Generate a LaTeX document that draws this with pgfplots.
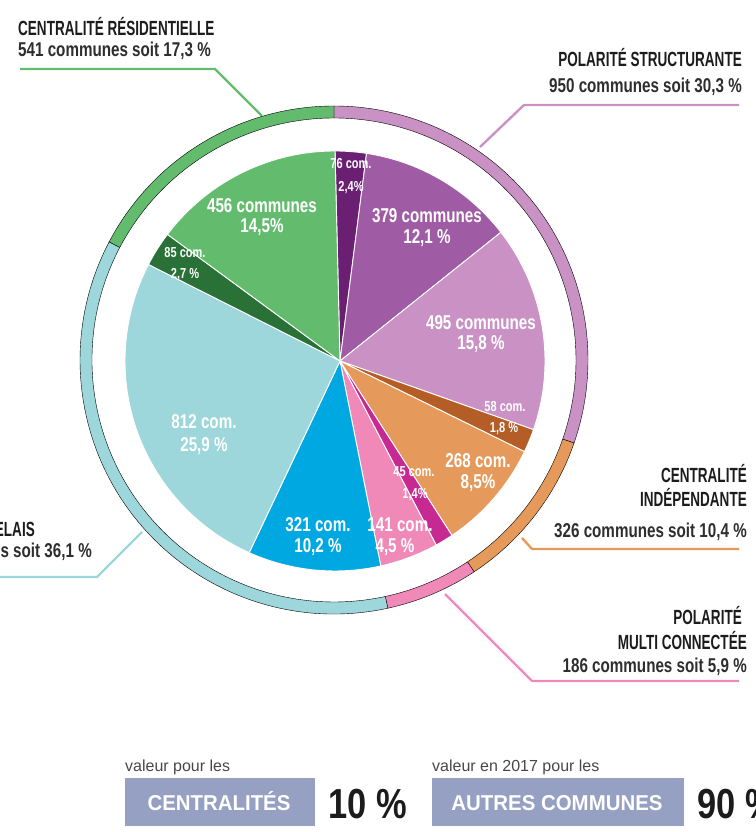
\documentclass[border=0pt]{standalone}
\usepackage{fontspec}
\setmainfont{Liberation Sans}
\newfontfamily\nar[FakeStretch=0.82]{Liberation Sans}
\newfontfamily\sub[FakeStretch=0.76]{Liberation Sans}
\newfontfamily\hdr[FakeStretch=0.66]{Liberation Sans}
\newfontfamily\boxf[FakeStretch=0.95]{Liberation Sans}
\usepackage{pgfplots}
\usepackage{pgfplotstable}
\pgfplotsset{compat=1.18}

\definecolor{cA}{HTML}{6B1F73}
\definecolor{cB}{HTML}{A05BA5}
\definecolor{cC}{HTML}{C991C4}
\definecolor{cD}{HTML}{B55D26}
\definecolor{cE}{HTML}{E59A5B}
\definecolor{cF}{HTML}{C62A92}
\definecolor{cG}{HTML}{F088B8}
\definecolor{cH}{HTML}{00A8E1}
\definecolor{cI}{HTML}{9DD7DB}
\definecolor{cJ}{HTML}{2A7137}
\definecolor{cK}{HTML}{63BC6E}
\definecolor{boxc}{HTML}{95A0C3}
\definecolor{ink}{HTML}{1C1C1C}
\newcommand\slicecolor[1]{\ifcase#1\or cA\or cB\or cC\or cD\or cE\or cF\or cG\or cH\or cI\or cJ\or cK\fi}

\pgfdeclareplotmark{nothing}{}

\tikzset{
  big/.style={anchor=base, white, font=\fontsize{20}{20}\selectfont\sub\bfseries},
  small/.style={anchor=base, white, font=\fontsize{14.5}{14.5}\selectfont\sub\bfseries},
  head/.style={ink, font=\fontsize{20.5}{20.5}\selectfont\hdr\bfseries},
  subh/.style={ink!92, font=\fontsize{20}{20}\selectfont\sub\bfseries},
}

% inner pie: start and end (percent of the circle, clockwise from the top), colour number
\pgfplotstableread{
x y s e k
335 361 0 2.4 1
335 361 2.4 14.5 2
335 361 14.5 30.3 3
335 361 30.3 32.1 4
335 361 32.1 40.6 5
335 361 40.6 42.0 6
335 361 42.0 46.5 7
335 361 46.5 56.7 8
335 361 56.7 82.6 9
335 361 82.6 85.3 10
335 361 85.3 100 11
}\pietable

% outer ring: groups
\pgfplotstableread{
x y s e k
334 360 0 30.3 3
334 360 30.3 40.7 5
334 360 40.7 46.6 7
334 360 46.6 82.7 9
334 360 82.7 100 11
}\ringtable

\begin{document}
\begin{tikzpicture}[every node/.append style={inner sep=0pt}]
\begin{axis}[
  set layers,
  scale only axis, width=755pt, height=832pt,
  xmin=0, xmax=755, ymin=0, ymax=832, y dir=reverse,
  hide axis, clip=false,
]
% ring
\addplot[scatter, only marks, mark=nothing,
  visualization depends on={\thisrow{s} \as \ss},
  visualization depends on={\thisrow{e} \as \ee},
  visualization depends on={\thisrow{k} \as \kk},
  scatter/@pre marker code/.code={%
    \pgfmathsetmacro\aa{90-3.6*\ss}%
    \pgfmathsetmacro\bb{90-3.6*\ee}%
    \pgfmathtruncatemacro\ki{\kk}%
    \edef\cc{\slicecolor{\ki}}%
    \fill[fill=\cc] (\aa:254pt) arc[start angle=\aa, end angle=\bb, radius=254pt]
      -- (\bb:242pt) arc[start angle=\bb, end angle=\aa, radius=242pt] -- cycle;
  },
  scatter/@post marker code/.code={},
] table[x=x, y=y] {\ringtable};
% pie
\addplot[scatter, only marks, mark=nothing,
  visualization depends on={\thisrow{s} \as \ss},
  visualization depends on={\thisrow{e} \as \ee},
  visualization depends on={\thisrow{k} \as \kk},
  scatter/@pre marker code/.code={%
    \pgfmathsetmacro\aa{90-3.6*\ss}%
    \pgfmathsetmacro\bb{90-3.6*\ee}%
    \pgfmathtruncatemacro\ki{\kk}%
    \edef\cc{\slicecolor{\ki}}%
    \filldraw[fill=\cc, draw=white, line width=0.9pt, line join=round] (0,0) -- (\aa:210pt)
      arc[start angle=\aa, end angle=\bb, radius=210pt] -- cycle;
  },
  scatter/@post marker code/.code={},
] table[x=x, y=y] {\pietable};

% leader lines
\addplot[cK, line width=2.4pt] coordinates {(20,69) (215,69) (262,116)};
\addplot[cC, line width=2.4pt] coordinates {(739,105) (524,105) (480,147)};
\addplot[cE, line width=2.4pt] coordinates {(739,549) (532,549) (522,538)};
\addplot[cG, line width=2.4pt] coordinates {(739,681) (532,681) (445,594)};
\addplot[cI, line width=2.4pt] coordinates {(-5,577) (97,577) (142,532)};

\begin{pgfonlayer}{axis foreground}
% group titles
\node[head, anchor=base west] at (axis cs:18,36) {CENTRALITÉ RÉSIDENTIELLE};
\node[subh, anchor=base west] at (axis cs:18,57) {541 communes soit 17,3 \%};
\node[head, anchor=base east] at (axis cs:742,67) {POLARITÉ STRUCTURANTE};
\node[subh, anchor=base east] at (axis cs:742,93) {950 communes soit 30,3 \%};
\node[head, anchor=base east] at (axis cs:747,483) {CENTRALITÉ};
\node[head, anchor=base east] at (axis cs:747,507) {INDÉPENDANTE};
\node[subh, anchor=base east] at (axis cs:747,538) {326 communes soit 10,4 \%};
\node[head, anchor=base east] at (axis cs:742,625) {POLARITÉ};
\node[head, anchor=base east] at (axis cs:747,650) {MULTI CONNECTÉE};
\node[subh, anchor=base east] at (axis cs:747,673) {186 communes soit 5,9 \%};
\node[head, anchor=base east] at (axis cs:35,537) {CENTRALITÉ RELAIS};
\node[subh, anchor=base east] at (axis cs:92,558) {1133 communes soit 36,1 \%};

% slice labels
\node[small] at (axis cs:351,169) {76 com.};
\node[small] at (axis cs:351,192) {2,4\%};
\node[big] at (axis cs:427,223) {379 communes};
\node[big] at (axis cs:427,244) {12,1 \%};
\node[big] at (axis cs:481,330) {495 communes};
\node[big] at (axis cs:481,350) {15,8 \%};
\node[small] at (axis cs:505,412) {58 com.};
\node[small] at (axis cs:504,433) {1,8 \%};
\node[big] at (axis cs:478,468) {268 com.};
\node[big] at (axis cs:478,489) {8,5\%};
\node[small] at (axis cs:414,477) {45 com.};
\node[small] at (axis cs:415,499) {1,4\%};
\node[big] at (axis cs:400,532) {141 com.};
\node[big] at (axis cs:395,553) {4,5 \%};
\node[big] at (axis cs:318,532) {321 com.};
\node[big] at (axis cs:318,553) {10,2 \%};
\node[big] at (axis cs:204,429) {812 com.};
\node[big] at (axis cs:204,452) {25,9 \%};
\node[small] at (axis cs:185,258) {85 com.};
\node[small] at (axis cs:185,279) {2,7 \%};
\node[big] at (axis cs:262,213) {456 communes};
\node[big] at (axis cs:262,233) {14,5\%};

% bottom boxes
\fill[boxc] (axis cs:125,778) rectangle (axis cs:315,826);
\fill[boxc] (axis cs:432,778) rectangle (axis cs:684,826);
\node[anchor=base west, text=black!72, font=\fontsize{16}{16}\selectfont] at (axis cs:125,772) {valeur pour les};
\node[anchor=base west, text=black!72, font=\fontsize{16}{16}\selectfont] at (axis cs:432,772) {valeur en 2017 pour les};
\node[anchor=base, white, font=\fontsize{21.5}{21.5}\selectfont\boxf\bfseries] at (axis cs:219,811) {CENTRALITÉS};
\node[anchor=base, white, font=\fontsize{21.5}{21.5}\selectfont\boxf\bfseries] at (axis cs:557,811) {AUTRES COMMUNES};
\node[anchor=base west, ink, font=\fontsize{42}{42}\selectfont\nar\bfseries] at (axis cs:328,819) {10 \%};
\node[anchor=base west, ink, font=\fontsize{42}{42}\selectfont\nar\bfseries] at (axis cs:697,819) {90 \%};
\end{pgfonlayer}

\coordinate (TL) at (axis cs:0,0);
\coordinate (BR) at (axis cs:755,832);
\end{axis}
\pgfresetboundingbox
\path[use as bounding box] (TL) rectangle (BR);
\end{tikzpicture}
\end{document}
